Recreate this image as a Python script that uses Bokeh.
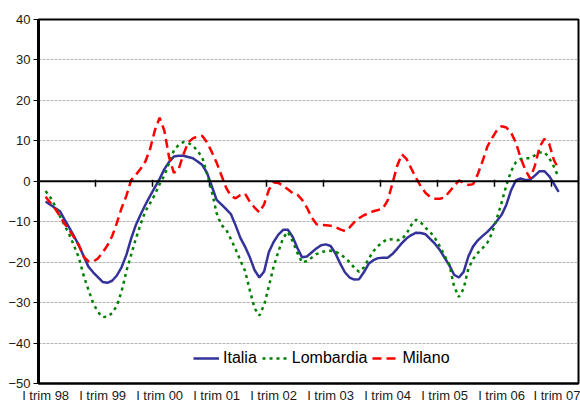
import pandas as pd
from bokeh.plotting import figure
from bokeh.models import Range1d, FixedTicker, Span, Legend, LegendItem
from bokeh.embed import file_html
from bokeh.resources import INLINE

# Monthly observations, Feb 1998 -> Feb 2007
months = pd.date_range("1998-02-01", "2007-02-01", freq="MS")

italia = [
    -5.0, -5.8, -6.6, -7.4, -9.5, -11.5, -13.6, -15.9, -18.5, -21.1, -22.5, -23.7,
    -24.9, -25.1, -24.6, -23.3, -21.2, -18.2, -14.2, -10.8, -8.2, -5.8, -3.6, -1.5,
    0.6, 3.0, 4.8, 6.1, 6.3, 6.3, 6.0, 5.7, 4.9, 4.0, 2.0, -1.3,
    -4.6, -5.7, -6.9, -8.1, -10.9, -14.0, -16.2, -18.8, -22.0, -23.8, -22.3, -17.5,
    -15.0, -13.2, -12.0, -12.0, -13.7, -16.5, -18.8, -18.6, -17.6, -16.6, -15.8, -15.6,
    -16.0, -17.8, -20.3, -22.5, -23.8, -24.3, -24.2, -22.5, -20.4, -19.5, -19.0, -18.9,
    -18.9, -18.0, -16.7, -15.3, -14.1, -13.3, -12.7, -12.8, -13.1, -14.3, -15.5, -17.0,
    -18.9, -20.8, -23.1, -23.8, -22.4, -18.6, -16.1, -14.6, -13.5, -12.5, -11.3, -9.8,
    -8.3, -5.8, -2.2, 0.2, 0.7, 0.3, 0.4, 1.4, 2.5, 2.5, 1.3, -0.6,
    -2.6,
]

lombardia = [
    -2.4, -4.0, -6.1, -8.6, -10.9, -13.2, -16.0, -18.9, -23.3, -26.8, -30.1, -32.3,
    -33.6, -33.5, -32.6, -30.8, -27.2, -22.2, -18.2, -14.2, -10.6, -7.4, -5.4, -3.3,
    -0.7, 1.4, 4.5, 7.6, 9.0, 9.7, 9.5, 8.8, 7.5, 5.8, 1.8, -2.5,
    -7.9, -10.8, -11.9, -14.3, -16.8, -19.6, -22.2, -27.0, -31.4, -33.2, -30.6, -26.0,
    -21.1, -17.4, -14.0, -12.5, -14.8, -17.7, -20.1, -19.7, -18.9, -18.0, -17.6, -17.2,
    -17.2, -17.4, -18.0, -18.9, -20.0, -21.4, -22.4, -21.3, -19.2, -17.3, -16.0, -15.0,
    -14.3, -14.4, -14.6, -14.3, -12.9, -10.8, -9.5, -10.2, -11.5, -12.6, -14.1, -16.1,
    -18.4, -20.6, -26.0, -28.6, -26.6, -21.6, -19.2, -17.7, -16.5, -15.2, -12.8, -9.1,
    -5.3, -1.0, 2.5, 4.7, 5.5, 5.7, 5.7, 6.4, 7.1, 7.2, 5.8, 3.6,
    1.0,
]

milano = [
    -3.8, -5.3, -6.8, -8.6, -10.5, -12.1, -13.9, -15.8, -18.6, -19.8, -19.9, -19.1,
    -17.6, -15.9, -13.6, -10.3, -6.6, -3.6, 0.3, 1.6, 3.1, 4.9, 8.0, 12.6,
    15.7, 12.5, 5.9, 2.1, 3.0, 6.6, 9.6, 10.6, 11.1, 11.2, 9.6, 7.2,
    4.6, 1.5, -1.6, -3.6, -4.2, -3.4, -3.1, -5.1, -6.5, -7.7, -5.7, -2.1,
    -0.3, -0.4, -1.1, -2.0, -2.9, -3.3, -4.6, -6.5, -8.9, -10.6, -10.8, -10.9,
    -11.0, -11.3, -11.9, -12.3, -11.4, -10.1, -9.1, -8.4, -7.9, -7.4, -7.1, -6.7,
    -4.8, -0.6, 3.8, 6.7, 5.5, 3.1, 0.8, -1.3, -2.9, -3.9, -4.3, -4.3,
    -4.0, -2.6, -1.2, 0.2, -0.4, -0.9, -0.7, 1.8, 5.0, 8.6, 10.7, 12.6,
    13.6, 13.3, 12.0, 9.6, 5.8, 2.8, 0.7, 3.8, 8.5, 10.5, 9.3, 5.3,
    3.0,
]

label_years = list(range(1998, 2008))
quarter_labels = ["I trim 98", "I trim 99", "I trim 00", "I trim 01", "I trim 02",
                  "I trim 03", "I trim 04", "I trim 05", "I trim 06", "I trim 07"]
y_ticks = [40, 30, 20, 10, 0, -10, -20, -30, -40, -50]
grid_ticks = [30, 20, 10, -10, -20, -30, -40]

FONT = "Liberation Sans"

# decimal-year position at mid-month
x = [d.year + (d.month - 0.5) / 12 for d in months]

p = figure(width=580, height=405, output_backend="svg", toolbar_location=None,
           x_range=Range1d(1998.0, 2007.474), y_range=Range1d(-50, 40),
           min_border_left=38, min_border_right=2, min_border_top=19,
           min_border_bottom=22)

p.outline_line_color = "black"
p.outline_line_width = 2
p.background_fill_color = "white"
p.border_fill_color = "white"

# y axis
p.yaxis.ticker = FixedTicker(ticks=y_ticks)
p.yaxis.axis_line_width = 3
p.yaxis.axis_line_color = "black"
p.yaxis.major_tick_out = 5
p.yaxis.major_tick_in = 0
p.yaxis.minor_tick_out = 0
p.yaxis.minor_tick_in = 0
p.yaxis.major_label_standoff = 3
p.yaxis.major_label_text_font = FONT
p.yaxis.major_label_text_font_size = "13px"
p.yaxis.major_label_text_color = "#1a1a1a"

# x axis: labels centred on the first quarter of each year
label_pos = [yr + 0.125 for yr in label_years]
p.xaxis.ticker = FixedTicker(ticks=label_pos)
p.xaxis.major_label_overrides = {pos: lab for pos, lab in zip(label_pos, quarter_labels)}
p.xaxis.axis_line_color = "black"
p.xaxis.axis_line_width = 2
p.xaxis.major_tick_out = 0
p.xaxis.major_tick_in = 0
p.xaxis.minor_tick_out = 0
p.xaxis.minor_tick_in = 0
p.xaxis.major_label_standoff = 4
p.xaxis.major_label_text_font = FONT
p.xaxis.major_label_text_font_size = "13px"
p.xaxis.major_label_text_color = "#1a1a1a"

# grid
p.xgrid.visible = False
p.ygrid.ticker = FixedTicker(ticks=grid_ticks)
p.ygrid.grid_line_color = "#b4b4b4"
p.ygrid.grid_line_width = 1
p.ygrid.grid_line_dash = "3 1"

# zero line (category axis) with year tick marks
p.add_layout(Span(location=0, dimension="width", line_color="black", line_width=2))
p.scatter(x=label_years[1:], y=[-0.5] * (len(label_years) - 1), marker="dash",
          angle=1.5708, size=7, line_color="black", line_width=1.5)

r_it = p.line(x, italia, line_color="#333399", line_width=2.5)
r_lo = p.line(x, lombardia, line_color="#008000", line_width=2.5, line_dash="3 4")
r_mi = p.line(x, milano, line_color="#ff0000", line_width=2.5, line_dash="9 5")

legend = Legend(items=[LegendItem(label="Italia", renderers=[r_it]),
                       LegendItem(label="Lombardia", renderers=[r_lo]),
                       LegendItem(label="Milano", renderers=[r_mi])],
                orientation="horizontal", location=(155, 16),
                background_fill_color="white", background_fill_alpha=1.0,
                border_line_color=None, label_text_font=FONT,
                label_text_font_size="16px", label_text_color="#000000",
                glyph_width=26, glyph_height=16, label_height=18,
                label_standoff=4, spacing=5, padding=4, margin=0)
p.add_layout(legend)

open("out.html", "w").write(file_html(p, INLINE))
